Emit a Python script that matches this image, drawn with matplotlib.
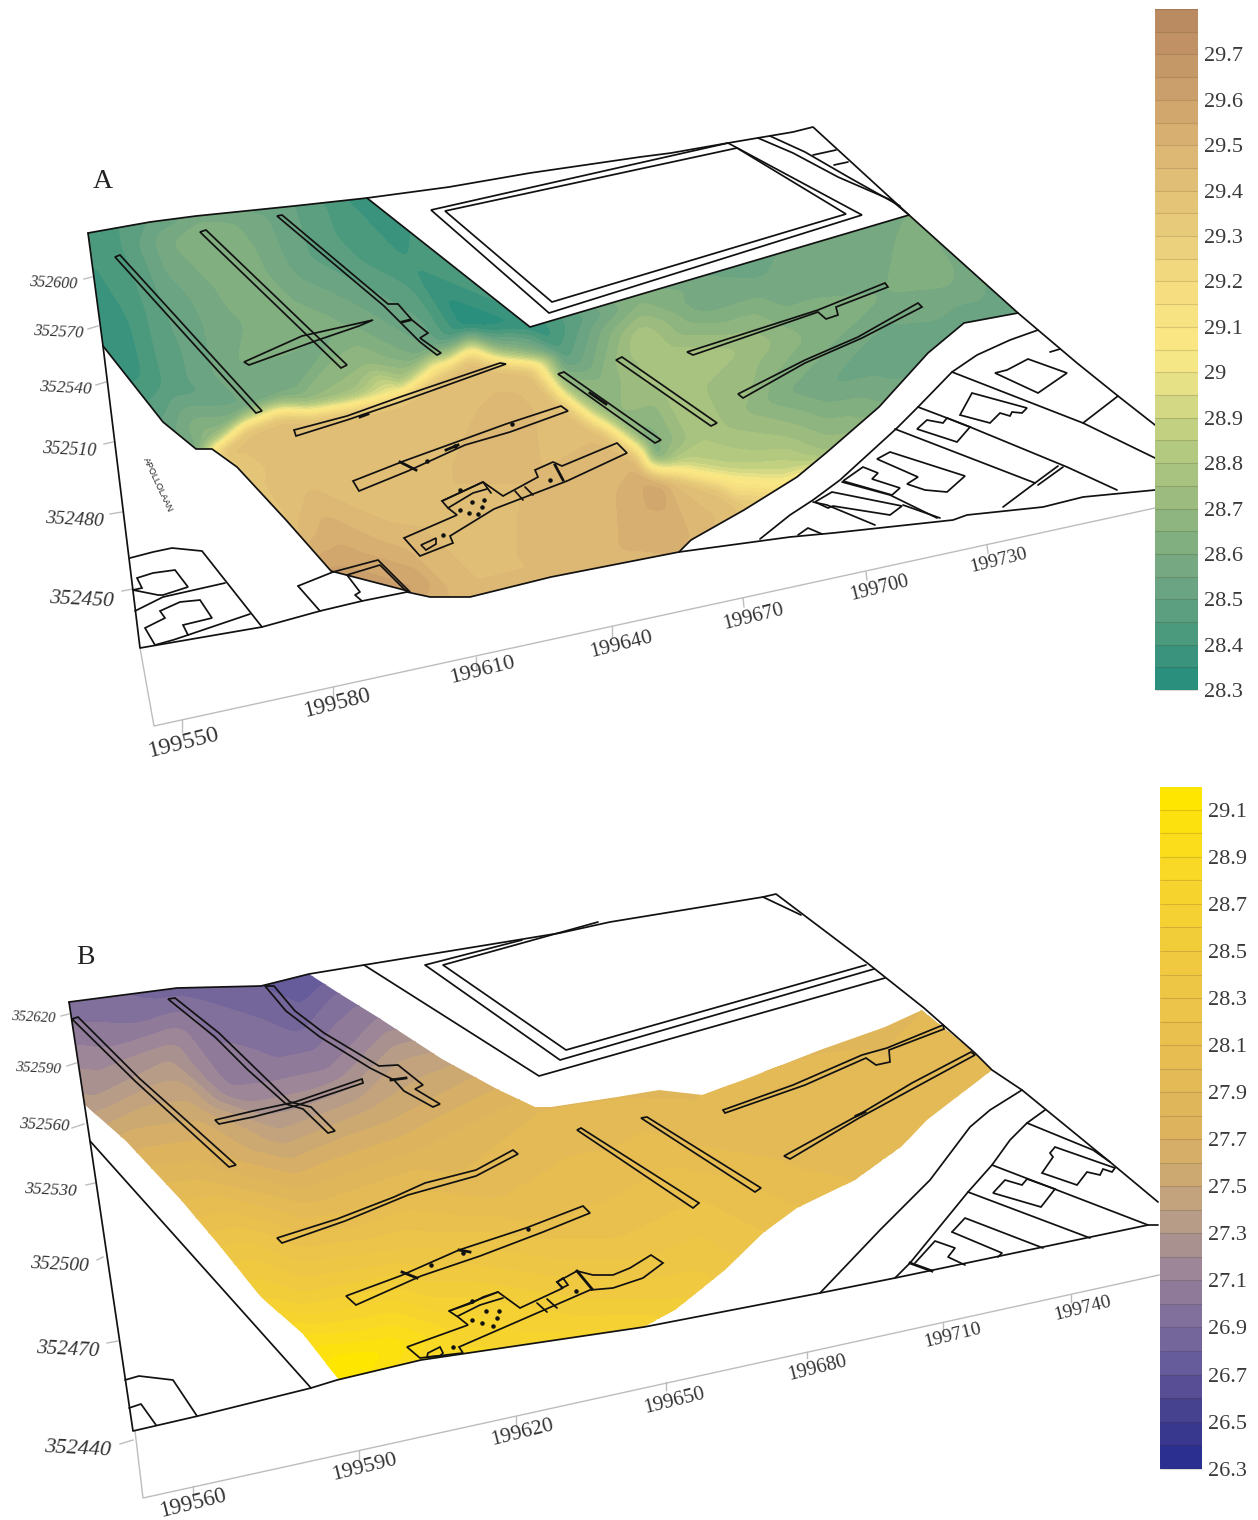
import numpy as np
import matplotlib
matplotlib.use('Agg')
import matplotlib.pyplot as plt
from matplotlib.colors import LinearSegmentedColormap, BoundaryNorm
from matplotlib.patches import Polygon
from matplotlib.tri import Triangulation, LinearTriInterpolator

plt.rcParams['font.family'] = ['Liberation Serif', 'DejaVu Serif']

# ---- colour scales (value, colour) ----
scale_a = [(28.3, '#2a8f7c'), (28.4, '#4c9a7e'), (28.5, '#6aa382'), (28.6, '#80ae80'), (28.7, '#98ba7e'),
           (28.8, '#b1c780'), (28.9, '#cbd583'), (29.0, '#f1e688'), (29.05, '#fbe984'), (29.2, '#f5dc7f'),
           (29.3, '#e9cf7c'), (29.5, '#dcb673'), (29.6, '#cfa56d'), (29.7, '#c49768'), (29.8, '#b98a61')]
scale_b = [(26.3, '#2b2f8f'), (26.5, '#46418f'), (26.7, '#655a9b'), (26.9, '#7f6e9b'), (27.1, '#9a8498'),
           (27.3, '#b39a8b'), (27.5, '#c9a777'), (27.7, '#dcb160'), (28.1, '#e8bf50'), (28.5, '#f1ca3f'),
           (28.9, '#f9d925'), (29.2, '#ffe600')]
ticks_a = [28.3, 28.4, 28.5, 28.6, 28.7, 28.8, 28.9, 29.0, 29.1, 29.2, 29.3, 29.4, 29.5, 29.6, 29.7]
labels_a = ['28.3', '28.4', '28.5', '28.6', '28.7', '28.8', '28.9', '29', '29.1', '29.2', '29.3', '29.4', '29.5', '29.6', '29.7']
ticks_b = [26.3, 26.5, 26.7, 26.9, 27.1, 27.3, 27.5, 27.7, 27.9, 28.1, 28.3, 28.5, 28.7, 28.9, 29.1]
labels_b = ['26.3', '26.5', '26.7', '26.9', '27.1', '27.3', '27.5', '27.7', '27.9', '28.1', '28.3', '28.5', '28.7', '28.9', '29.1']

# ---- panel A: surface outline and height samples (x, y, z) ----
outline_a = [(88, 233), (150, 222), (196, 216), (294, 206), (367, 198), (530, 327), (909, 215), (1018, 313),
             (964, 323), (928, 353), (879, 407), (826, 453), (797, 477), (744, 510), (691, 540), (679, 552),
             (551, 577), (470, 597), (430, 597), (408, 591), (331, 571), (286, 520), (237, 467), (212, 449),
             (196, 449), (163, 422), (103, 346)]
a_west = [(88, 233, 28.4), (94, 263, 28.4), (103, 346, 28.35), (122, 242, 28.45), (122, 365, 28.35), (130, 320, 28.4),
          (150, 221, 28.5), (163, 304, 28.5), (163, 385, 28.45), (163, 422, 28.5), (171, 242, 28.6), (196, 215, 28.55), (196, 449, 28.55),
          (204, 230, 28.65), (204, 324, 28.55), (237, 365, 28.6), (245, 283, 28.65), (245, 406, 28.55), (265, 214, 28.55),
          (286, 324, 28.65), (286, 385, 28.55), (294, 205, 28.5), (310, 259, 28.5), (347, 324, 28.6), (359, 210, 28.4),
          (367, 197, 28.35), (367, 365, 28.7), (408, 263, 28.4), (428, 349, 28.55), (470, 324, 28.3), (530, 327, 28.35)]
a_east = [(540, 333, 28.35), (560, 353, 28.45), (581, 327, 28.5), (601, 380, 28.65), (622, 413, 28.7), (642, 303, 28.65),
          (642, 337, 28.8), (654, 453, 28.5), (662, 360, 28.8), (703, 300, 28.55), (703, 440, 28.8), (744, 347, 28.75),
          (744, 413, 28.7), (764, 280, 28.55), (785, 393, 28.6), (785, 437, 28.75), (805, 337, 28.65), (826, 260, 28.55),
          (826, 387, 28.55), (867, 397, 28.6), (826, 453, 28.75), (887, 293, 28.6), (887, 353, 28.5), (899, 233, 28.6),
          (909, 215, 28.6), (928, 250, 28.65), (948, 287, 28.6), (981, 300, 28.55), (989, 320, 28.5), (1018, 313, 28.5),
          (964, 323, 28.5), (928, 353, 28.5), (879, 407, 28.6), (830, 470, 28.9)]
a_ridge_green = [(212, 440, 28.7), (245, 415, 28.7), (282, 402, 28.7), (310, 403, 28.7), (350, 396, 28.75), (400, 384, 28.8),
                 (445, 356, 28.75), (471, 340, 28.7), (502, 352, 28.7), (540, 356, 28.65), (566, 386, 28.7), (600, 410, 28.7),
                 (618, 420, 28.65), (650, 445, 28.6), (685, 460, 28.85), (724, 466, 28.85), (790, 472, 28.9)]
a_ridge_yellow = [(212, 449, 29.05), (245, 424, 29.1), (282, 411, 29.1), (310, 412, 29.1), (350, 405, 29.05), (400, 393, 29.05),
                  (445, 365, 29.05), (471, 349, 29.05), (502, 361, 29.1), (535, 365, 29.15), (559, 393, 29.1), (592, 418, 29.05),
                  (609, 427, 29.05), (642, 453, 29.1), (679, 470, 29.05), (724, 478, 29.05), (785, 483, 29.05)]
a_tan = [(220, 455, 29.42), (250, 432, 29.42), (285, 420, 29.42), (310, 422, 29.42), (350, 416, 29.42), (400, 405, 29.42),
         (445, 378, 29.42), (471, 362, 29.42), (495, 372, 29.44), (528, 375, 29.44), (552, 402, 29.44), (584, 428, 29.44),
         (600, 436, 29.45), (634, 462, 29.48), (672, 482, 29.45), (718, 492, 29.4), (770, 500, 29.3),
         (237, 467, 29.38), (286, 520, 29.42), (300, 470, 29.42), (331, 571, 29.62), (345, 558, 29.58), (408, 591, 29.62),
         (420, 585, 29.6), (400, 530, 29.45), (430, 598, 29.5), (450, 470, 29.45), (470, 598, 29.45), (500, 430, 29.47), (540, 470, 29.45),
         (530, 540, 29.45), (551, 578, 29.45), (600, 500, 29.47), (640, 475, 29.55), (660, 485, 29.58), (620, 550, 29.5),
         (679, 553, 29.5), (691, 540, 29.5), (720, 520, 29.45), (744, 510, 29.4), (797, 477, 29.1)]

# ---- panel A: line work ----
a_closed = [
    [(115, 257), (120, 255), (262, 411), (256, 413)],
    [(200, 232), (206, 230), (347, 365), (341, 368)],
    [(244, 362), (302, 336), (373, 320), (359, 326), (318, 340), (249, 365)],
    [(277, 216), (282, 215), (388, 304), (398, 304), (412, 320), (428, 333), (420, 338), (441, 353), (437, 355),
     (420, 342), (402, 324), (384, 306)],
    [(294, 430), (347, 416), (400, 397), (500, 363), (506, 364), (400, 402), (347, 420), (296, 436)],
    [(353, 481), (404, 461), (506, 424), (561, 406), (568, 411), (510, 432), (465, 445), (408, 471), (359, 491)],
    [(404, 538), (420, 556), (453, 543), (450, 536), (494, 509), (567, 481), (627, 453), (617, 443), (562, 466),
     (553, 462), (535, 470), (538, 477), (503, 496), (483, 482), (442, 501), (448, 508), (457, 515)],
    [(558, 374), (564, 372), (661, 440), (655, 443)],
    [(616, 360), (622, 357), (717, 423), (711, 426)],
    [(687, 352), (818, 310), (885, 283), (888, 287), (836, 307), (838, 315), (826, 319), (818, 312), (693, 355)],
    [(738, 394), (805, 360), (858, 337), (918, 303), (922, 307), (862, 338), (805, 363), (743, 398)],
    [(431, 210), (728, 143), (862, 215), (549, 313)],
    [(445, 211), (737, 148), (846, 214), (552, 302)],
    [(995, 373), (1007, 370), (1028, 359), (1067, 373), (1038, 393)],
    [(960, 415), (972, 393), (1027, 408), (1022, 413), (1012, 412), (1010, 416), (1000, 413), (990, 423)],
    [(917, 429), (927, 420), (943, 423), (947, 418), (970, 427), (957, 442)],
    [(877, 459), (890, 452), (965, 476), (947, 492), (925, 490), (907, 484), (918, 477)],
    [(843, 481), (863, 467), (878, 473), (872, 479), (900, 488), (892, 495)],
    [(815, 502), (832, 492), (902, 506), (890, 515), (833, 506), (828, 508)],
    [(133, 590), (142, 588), (137, 578), (153, 573), (175, 570), (188, 587), (163, 595), (158, 595)],
    [(145, 628), (165, 618), (160, 611), (180, 602), (200, 600), (212, 618), (183, 625), (188, 635), (173, 640), (155, 645)],
    [(421, 545), (430, 541), (436, 538), (436, 544), (426, 550)],
]
a_open = [
    [(88, 233), (150, 222), (196, 216), (294, 206), (367, 198), (449, 187), (530, 173), (640, 157), (671, 153),
     (728, 143), (793, 132), (813, 127), (909, 215), (1018, 313), (1038, 330), (1077, 363), (1118, 396), (1155, 425)],
    [(88, 233), (103, 346), (140, 648), (262, 627), (320, 611), (362, 601), (407, 592), (430, 597), (470, 597), (551, 577),
     (679, 552), (790, 537), (833, 533), (953, 520), (967, 515), (1043, 507), (1083, 497), (1155, 490)],
    [(367, 198), (530, 327), (909, 215)],
    [(1018, 313), (964, 323), (928, 353), (879, 407), (826, 453), (797, 477), (744, 510), (691, 540), (679, 552)],
    [(408, 591), (331, 571), (286, 520), (237, 467), (212, 449), (196, 449), (163, 422), (103, 346)],
    [(760, 539), (790, 515), (813, 500), (840, 480), (897, 428), (918, 407), (952, 372), (977, 355), (1010, 340), (1038, 330)],
    [(952, 372), (1083, 423), (1155, 458)],
    [(1083, 423), (1118, 396)],
    [(918, 407), (947, 418), (970, 427), (1067, 467), (1117, 490)],
    [(895, 429), (1035, 483)],
    [(1035, 483), (1058, 466)],
    [(1038, 485), (1063, 467)],
    [(1035, 483), (1003, 507)],
    [(813, 502), (827, 505), (875, 525)],
    [(798, 535), (808, 528), (822, 534)],
    [(1050, 352), (1060, 349)],
    [(758, 138), (793, 153), (838, 177), (891, 200), (909, 215)],
    [(770, 136), (805, 152), (850, 178), (900, 206)],
    [(813, 155), (836, 150)],
    [(834, 165), (848, 162)],
    [(130, 558), (153, 552), (172, 548), (202, 551), (262, 627)],
    [(135, 611), (163, 597), (225, 583)],
    [(188, 635), (250, 614)],
    [(298, 586), (333, 572), (378, 560), (410, 592)],
    [(298, 586), (320, 611)],
    [(347, 575), (380, 565), (407, 592)],
    [(347, 575), (360, 592), (355, 595), (362, 601)],
    [(515, 491), (523, 500)],
    [(525, 487), (533, 495)],
    [(448, 508), (473, 493), (487, 489)],
    [(442, 501), (483, 482), (491, 493)],
    [(842, 482), (890, 495), (937, 518)],
    [(903, 505), (940, 518)],
]
a_thick = [[(402, 322), (410, 320)], [(555, 465), (563, 480)], [(400, 462), (416, 470)], [(446, 450), (458, 445)],
           [(360, 417), (368, 414)], [(590, 393), (606, 404)]]
a_dots = [(460, 510), (469, 513), (478, 514), (482, 507), (484, 500), (472, 502), (443, 535), (550, 480), (427, 461),
          (455, 446), (512, 424), (460, 490)]
a_xticks = [199550, 199580, 199610, 199640, 199670, 199700, 199730]
a_xtick_pos = [(182, 720, 182, 732), (333, 687, 333, 699), (476, 657, 476, 669), (612, 626, 612, 637),
               (743, 598, 744, 607), (866, 572, 867, 580), (987, 545, 988, 553)]
a_xlabel_pos = [(184, 743, 17.5), (337, 703, 16.5), (482, 671, 16), (621, 645, 15.5), (753, 617, 15), (879, 588, 14.5), (999, 561, 14)]
a_yticks = [352600, 352570, 352540, 352510, 352480, 352450]
a_ytick_pos = [(84, 279, 92, 277), (88, 329, 98, 326), (96, 385, 106, 382), (104, 444, 113, 442), (110, 514, 122, 512),
               (122, 591, 133, 589)]
a_ylabel_pos = [(53, 283, 11.5), (58, 332, 12), (65, 388, 12.5), (69, 450, 13), (74, 520, 14), (81, 600, 15.5)]
a_frame = [(140, 648), (154, 726), (1155, 508)]

# ---- panel B: surface outline and height samples ----
outline_b = [(69, 1002), (177, 988), (261, 986), (309, 974), (337, 992), (379, 1018), (442, 1059), (497, 1089), (535, 1107),
             (551, 1107), (617, 1097), (659, 1090), (703, 1095), (751, 1077), (820, 1050), (885, 1027), (922, 1010),
             (975, 1053), (992, 1070), (962, 1093), (927, 1120), (901, 1147), (855, 1180), (797, 1208), (763, 1233),
             (725, 1270), (675, 1310), (644, 1327), (421, 1360), (339, 1380), (303, 1334), (261, 1297), (219, 1245),
             (181, 1200), (126, 1141), (84, 1104)]
b_west = [(69, 1002, 26.95), (75, 1010, 26.95), (177, 988, 26.85), (200, 1000, 26.9), (261, 986, 26.8), (290, 985, 26.75),
          (309, 974, 26.7), (300, 1020, 26.85), (337, 992, 26.9), (330, 1030, 27.0), (379, 1018, 27.1), (170, 1060, 27.3),
          (100, 1060, 27.15), (84, 1104, 27.35), (90, 1100, 27.3), (230, 1090, 27.1), (260, 1085, 27.1), (330, 1070, 27.1),
          (400, 1060, 27.4), (442, 1059, 27.45), (200, 1120, 27.6), (280, 1130, 27.4), (370, 1110, 27.5), (450, 1090, 27.6),
          (126, 1141, 27.65), (497, 1089, 27.7)]
b_centre = [(200, 1180, 27.9), (300, 1190, 27.8), (420, 1150, 27.8), (530, 1120, 27.9), (535, 1107, 27.9), (181, 1200, 28.0),
            (200, 1220, 28.1), (250, 1250, 28.35), (219, 1245, 28.3), (261, 1297, 28.6), (300, 1300, 28.55), (400, 1250, 28.3),
            (500, 1200, 28.0), (600, 1230, 28.15), (700, 1200, 28.2), (700, 1270, 28.4), (725, 1270, 28.35), (675, 1310, 28.55),
            (600, 1310, 28.55), (644, 1327, 28.7), (450, 1330, 28.8), (421, 1360, 28.85), (390, 1350, 29.1), (339, 1380, 29.2),
            (350, 1365, 29.2), (303, 1334, 28.9)]
b_east = [(551, 1107, 27.9), (617, 1097, 27.9), (659, 1090, 27.9), (703, 1095, 27.9), (751, 1077, 27.9), (820, 1050, 27.9),
          (885, 1027, 27.9), (922, 1010, 27.9), (975, 1053, 27.95), (992, 1070, 27.95), (962, 1093, 27.95), (927, 1120, 27.95),
          (900, 1080, 27.9), (901, 1147, 27.95), (855, 1180, 28.0), (800, 1150, 27.95), (797, 1208, 28.1), (763, 1233, 28.2),
          (700, 1120, 27.9)]

# ---- panel B: line work ----
b_closed = [
    [(72, 1019), (78, 1017), (139, 1078), (236, 1165), (229, 1167), (135, 1081)],
    [(168, 999), (175, 998), (219, 1033), (253, 1066), (290, 1102), (311, 1107), (335, 1131), (328, 1133), (303, 1109),
     (286, 1104), (248, 1070), (215, 1037)],
    [(215, 1120), (253, 1111), (295, 1102), (362, 1079), (363, 1083), (295, 1106), (253, 1117), (219, 1124)],
    [(265, 986), (274, 986), (295, 1011), (324, 1033), (379, 1066), (398, 1065), (423, 1085), (415, 1089), (440, 1104),
     (433, 1107), (404, 1091), (394, 1080), (370, 1068), (320, 1037), (286, 1011)],
    [(277, 1238), (337, 1219), (394, 1197), (425, 1183), (476, 1170), (513, 1150), (518, 1154), (476, 1176), (408, 1195),
     (345, 1221), (282, 1243)],
    [(346, 1296), (400, 1276), (459, 1250), (526, 1228), (583, 1206), (590, 1213), (543, 1232), (480, 1256), (421, 1276),
     (356, 1305)],
    [(407, 1347), (420, 1358), (463, 1353), (459, 1347), (590, 1290), (613, 1288), (643, 1278), (663, 1263), (651, 1255),
     (630, 1268), (613, 1275), (593, 1275), (577, 1271), (557, 1282), (563, 1288), (520, 1308), (498, 1292), (449, 1311),
     (458, 1317), (468, 1325)],
    [(577, 1130), (581, 1128), (699, 1203), (693, 1208)],
    [(641, 1118), (647, 1117), (761, 1188), (755, 1192)],
    [(723, 1110), (793, 1085), (862, 1055), (887, 1048), (943, 1025), (944, 1029), (889, 1050), (890, 1062), (876, 1065),
     (866, 1058), (805, 1085), (725, 1113)],
    [(784, 1156), (855, 1117), (912, 1083), (971, 1052), (975, 1055), (916, 1087), (859, 1118), (790, 1159)],
    [(1042, 1173), (1053, 1157), (1050, 1153), (1055, 1147), (1115, 1168), (1112, 1172), (1103, 1169), (1100, 1175),
     (1087, 1172), (1077, 1185)],
    [(993, 1193), (1005, 1180), (1022, 1185), (1027, 1179), (1055, 1189), (1041, 1207)],
    [(427, 1357), (428, 1353), (440, 1347), (443, 1353), (440, 1356)],
    [(557, 1282), (563, 1278), (568, 1285), (562, 1288)],
]
b_open = [
    [(69, 1002), (177, 988), (261, 986), (309, 974), (364, 965), (505, 942), (560, 933), (610, 922), (763, 897), (776, 894),
     (866, 962), (924, 1008), (975, 1053), (992, 1070), (1022, 1090), (1110, 1162), (1158, 1202)],
    [(69, 1002), (90, 1141), (133, 1431), (198, 1416), (311, 1388), (337, 1380), (421, 1360), (644, 1327), (820, 1293),
     (895, 1278), (1148, 1225), (1158, 1225)],
    [(90, 1141), (311, 1388)],
    [(364, 965), (539, 1076), (885, 978)],
    [(522, 940), (425, 965), (560, 1060), (874, 969)],
    [(598, 922), (443, 965), (566, 1050), (866, 965)],
    [(763, 897), (801, 915)],
    [(820, 1293), (880, 1230), (930, 1180), (970, 1127), (990, 1110), (1022, 1090)],
    [(895, 1278), (910, 1263), (968, 1192), (992, 1165), (1010, 1140), (1027, 1123), (1045, 1110)],
    [(1027, 1123), (1093, 1150), (1110, 1162)],
    [(992, 1165), (1148, 1225)],
    [(968, 1192), (1090, 1238)],
    [(952, 1232), (965, 1218), (1043, 1248)],
    [(952, 1232), (1002, 1253), (998, 1257)],
    [(915, 1263), (935, 1241), (955, 1248), (948, 1257), (965, 1265)],
    [(125, 1380), (139, 1376), (173, 1380), (197, 1416)],
    [(129, 1408), (141, 1404), (156, 1425)],
    [(537, 1303), (547, 1312)],
    [(547, 1299), (557, 1308)],
    [(458, 1316), (480, 1305), (503, 1298)],
    [(449, 1311), (472, 1303), (483, 1297), (498, 1292)],
]
b_thick = [[(391, 1080), (406, 1078)], [(910, 1263), (932, 1271)], [(402, 1272), (417, 1278)], [(459, 1250), (470, 1252)],
           [(577, 1271), (592, 1289)], [(856, 1116), (865, 1112)]]
b_dots = [(472, 1320), (482, 1323), (493, 1326), (497, 1318), (499, 1311), (486, 1311), (472, 1301), (453, 1347), (576, 1291),
          (431, 1265), (463, 1253), (528, 1229)]
b_xticks = [199560, 199590, 199620, 199650, 199680, 199710, 199740]
b_xtick_pos = [(193, 1486, 193, 1496), (359, 1451, 359, 1462), (516, 1416, 516, 1427), (666, 1382, 666, 1390),
               (807, 1352, 807, 1358), (943, 1322, 943, 1330), (1071, 1295, 1071, 1302)]
b_xlabel_pos = [(193, 1503, 16.5), (364, 1468, 16), (522, 1433, 15.5), (674, 1401, 15), (817, 1368, 14.5), (953, 1336, 14), (1083, 1309, 14)]
b_yticks = [352620, 352590, 352560, 352530, 352500, 352470, 352440]
b_ytick_pos = [(61, 1016, 69, 1014), (67, 1066, 76, 1063), (72, 1128, 84, 1124), (86, 1185, 95, 1183), (97, 1260, 103, 1257),
               (107, 1343, 118, 1341), (120, 1444, 133, 1440)]
b_ylabel_pos = [(33, 1018, 10.5), (38, 1069, 11), (44, 1125, 12), (50, 1190, 12.5), (59, 1265, 14), (68, 1350, 15), (78, 1449, 16)]
b_frame = [(135, 1431), (143, 1498), (1159, 1275)]

W, H = 1258, 1520
fig = plt.figure(figsize=(W / 100, H / 100), dpi=100)
ax = fig.add_axes([0, 0, 1, 1])
ax.set_xlim(0, W)
ax.set_ylim(H, 0)
ax.axis('off')


def make_cmap(scale, name):
    lo, hi = scale[0][0], scale[-1][0]
    return LinearSegmentedColormap.from_list(name, [((v - lo) / (hi - lo), c) for v, c in scale], N=256)


def box_blur(z, r):
    # blur that leaves the empty part of the grid out of the average
    weight = (~np.isnan(z)).astype(float)
    vals = np.nan_to_num(z)
    for axis in (0, 1):
        kernel = np.ones(2 * r + 1)
        vals = np.apply_along_axis(lambda m: np.convolve(m, kernel, mode='same'), axis, vals)
        weight = np.apply_along_axis(lambda m: np.convolve(m, kernel, mode='same'), axis, weight)
    out = np.where(weight > 0, vals / np.maximum(weight, 1e-9), np.nan)
    return np.where(np.isnan(z), np.nan, out)


def draw_surface(samples, outline, levels, cmap):
    pts = np.array(samples)
    tri = Triangulation(pts[:, 0], pts[:, 1])
    gx, gy = np.meshgrid(np.arange(pts[:, 0].min(), pts[:, 0].max() + 2, 2.0),
                         np.arange(pts[:, 1].min(), pts[:, 1].max() + 2, 2.0))
    gz = LinearTriInterpolator(tri, pts[:, 2])(gx, gy)
    gz = np.ma.filled(gz.astype(float), np.nan)
    for _ in range(3):
        gz = box_blur(gz, 2)
    norm = BoundaryNorm(levels, cmap.N)
    cs = ax.contourf(gx, gy, np.ma.masked_invalid(gz), levels=levels, cmap=cmap, norm=norm, extend='both', zorder=1)
    cs.set_edgecolor('face')
    cs.set_linewidth(0.3)
    clip = Polygon(outline, closed=True, transform=ax.transData, facecolor='none', edgecolor='none')
    ax.add_patch(clip)
    cs.set_clip_path(clip)


def draw_lines(closed, opened, thick, dots):
    for poly in closed:
        ax.add_patch(Polygon(poly, closed=True, fill=False, edgecolor='#111111', lw=1.25, zorder=3))
    for line in opened:
        xs, ys = zip(*line)
        ax.plot(xs, ys, color='#111111', lw=1.25, zorder=3, solid_capstyle='round')
    for line in thick:
        xs, ys = zip(*line)
        ax.plot(xs, ys, color='#111111', lw=2.0, zorder=3)
    xs, ys = zip(*dots)
    ax.scatter(xs, ys, s=5, color='#111111', zorder=3)


def draw_axis(frame, xvals, xticks, xlabels, yvals, yticks, ylabels):
    xs, ys = zip(*frame)
    ax.plot(xs, ys, color='#bdbdbd', lw=1.0, zorder=2)
    for (x0, y0, x1, y1) in list(xticks) + list(yticks):
        ax.plot([x0, x1], [y0, y1], color='#bdbdbd', lw=1.0, zorder=2)
    for val, (x, y, size) in zip(xvals, xlabels):
        ax.text(x, y, str(val), fontsize=size, rotation=14, rotation_mode='anchor', ha='center', va='center', color='#333333')
    for val, (x, y, size) in zip(yvals, ylabels):
        ax.text(x, y, str(val), fontsize=size, style='italic', rotation=-3, rotation_mode='anchor', ha='center', va='center', color='#333333')


def draw_colorbar(px, levels, cmap, ticks, labels, vmin, vmax):
    # px = left, top, right, bottom in picture pixels
    left, top, right, bottom = px
    cax = fig.add_axes([left / W, 1 - bottom / H, (right - left) / W, (bottom - top) / H])
    norm = BoundaryNorm(levels, cmap.N)
    cax.pcolormesh([0, 1], levels, np.array(levels[:-1]).reshape(-1, 1) + 0.001, cmap=cmap, norm=norm)
    cax.hlines(levels, 0, 1, color=(0.3, 0.2, 0.1, 0.18), lw=0.8)
    cax.set_xlim(0, 1)
    cax.set_ylim(vmin, vmax)
    cax.set_xticks([])
    cax.yaxis.tick_right()
    cax.set_yticks(ticks)
    cax.set_yticklabels(labels, fontsize=16, color='#3a3a3a')
    cax.tick_params(axis='y', length=0, pad=4)
    for s in cax.spines.values():
        s.set_visible(False)


cmap_a = make_cmap(scale_a, 'panel_a')
cmap_b = make_cmap(scale_b, 'panel_b')
levels_a = np.round(np.arange(28.3, 29.8001, 0.05), 2)
levels_b = np.round(np.arange(26.3, 29.2001, 0.1), 1)

draw_surface(a_west + a_east + a_ridge_green + a_ridge_yellow + a_tan, outline_a, levels_a, cmap_a)
draw_surface(b_west + b_centre + b_east, outline_b, levels_b, cmap_b)

draw_lines(a_closed, a_open, a_thick, a_dots)
draw_lines(b_closed, b_open, b_thick, b_dots)

draw_axis(a_frame, a_xticks, a_xtick_pos, a_xlabel_pos, a_yticks, a_ytick_pos, a_ylabel_pos)
draw_axis(b_frame, b_xticks, b_xtick_pos, b_xlabel_pos, b_yticks, b_ytick_pos, b_ylabel_pos)

ax.text(103, 182, 'A', fontsize=20, ha='center', va='center', color='#222222')
ax.text(85, 958, 'B', fontsize=20, ha='center', va='center', color='#222222')
ax.text(158, 485, 'APOLLOLAAN', fontsize=6.5, family='Liberation Sans', rotation=-65, ha='center', va='center', color='#222222')

draw_colorbar((1155, 9, 1198, 692), levels_a, cmap_a, ticks_a, labels_a, 28.296, 29.8)
draw_colorbar((1160, 787, 1202, 1471), levels_b, cmap_b, ticks_b, labels_b, 26.29, 29.197)

fig.savefig('out.png', dpi=100)
